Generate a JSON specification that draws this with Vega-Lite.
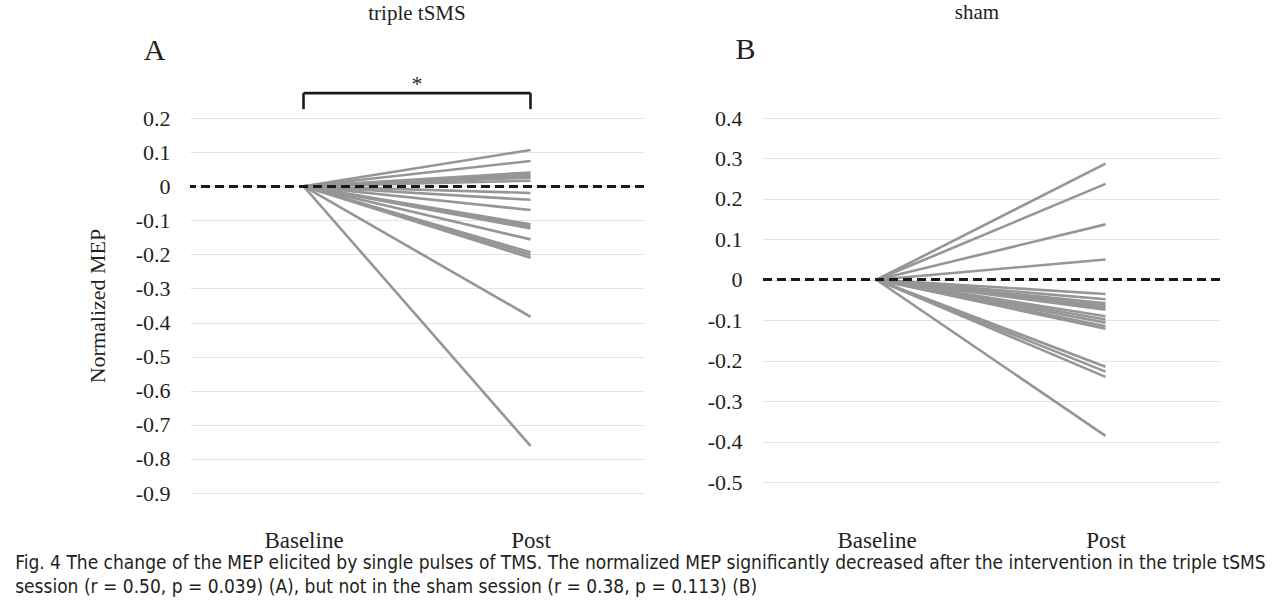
{
  "$schema": "https://vega.github.io/schema/vega-lite/v6.json",
  "background": "white",
  "padding": {"left": 15, "top": 2, "right": 5, "bottom": 2},
  "bounds": "flush",
  "spacing": 118,
  "config": {
    "view": {"stroke": null},
    "font": "Liberation Serif",
    "axis": {"domain": false, "ticks": false, "labelColor": "#231f20", "titleColor": "#231f20", "labelFont": "Liberation Serif", "titleFont": "Liberation Serif", "titleFontWeight": "normal"}
  },
  "title": {
    "text": ["Fig. 4  The change of the MEP elicited by single pulses of TMS. The normalized MEP significantly decreased after the intervention in the triple tSMS", "session (r = 0.50, p = 0.039) (A), but not in the sham session (r = 0.38, p = 0.113) (B)"],
    "orient": "bottom", "anchor": "start", "frame": "bounds", "dx": -71, "offset": 2,
    "font": "Liberation Sans Narrow, DejaVu Sans Condensed, sans-serif", "fontSize": 19, "fontWeight": "normal", "color": "#231f20", "lineHeight": 24
  },
  "hconcat": [
    {
      "width": 454, "height": 375,
      "title": {"text": "triple tSMS", "font": "Liberation Serif", "fontSize": 21, "fontWeight": "normal", "color": "#231f20", "offset": 12},
      "data": {"values": [
        {"subject": "s1", "time": "Baseline", "value": 0}, {"subject": "s1", "time": "Post", "value": 0.106},
        {"subject": "s2", "time": "Baseline", "value": 0}, {"subject": "s2", "time": "Post", "value": 0.074},
        {"subject": "s3", "time": "Baseline", "value": 0}, {"subject": "s3", "time": "Post", "value": 0.04},
        {"subject": "s4", "time": "Baseline", "value": 0}, {"subject": "s4", "time": "Post", "value": 0.035},
        {"subject": "s5", "time": "Baseline", "value": 0}, {"subject": "s5", "time": "Post", "value": 0.03},
        {"subject": "s6", "time": "Baseline", "value": 0}, {"subject": "s6", "time": "Post", "value": 0.025},
        {"subject": "s7", "time": "Baseline", "value": 0}, {"subject": "s7", "time": "Post", "value": 0.016},
        {"subject": "s8", "time": "Baseline", "value": 0}, {"subject": "s8", "time": "Post", "value": -0.02},
        {"subject": "s9", "time": "Baseline", "value": 0}, {"subject": "s9", "time": "Post", "value": -0.04},
        {"subject": "s10", "time": "Baseline", "value": 0}, {"subject": "s10", "time": "Post", "value": -0.07},
        {"subject": "s11", "time": "Baseline", "value": 0}, {"subject": "s11", "time": "Post", "value": -0.112},
        {"subject": "s12", "time": "Baseline", "value": 0}, {"subject": "s12", "time": "Post", "value": -0.118},
        {"subject": "s13", "time": "Baseline", "value": 0}, {"subject": "s13", "time": "Post", "value": -0.124},
        {"subject": "s14", "time": "Baseline", "value": 0}, {"subject": "s14", "time": "Post", "value": -0.156},
        {"subject": "s15", "time": "Baseline", "value": 0}, {"subject": "s15", "time": "Post", "value": -0.194},
        {"subject": "s16", "time": "Baseline", "value": 0}, {"subject": "s16", "time": "Post", "value": -0.202},
        {"subject": "s17", "time": "Baseline", "value": 0}, {"subject": "s17", "time": "Post", "value": -0.21},
        {"subject": "s18", "time": "Baseline", "value": 0}, {"subject": "s18", "time": "Post", "value": -0.383},
        {"subject": "s19", "time": "Baseline", "value": 0}, {"subject": "s19", "time": "Post", "value": -0.762}
      ]},
      "encoding": {
        "x": {"field": "time", "type": "ordinal", "sort": ["Baseline", "Post"], "scale": {"type": "point", "padding": 0.5},
              "axis": {"title": null, "labelAngle": 0, "labelFontSize": 23, "labelPadding": 36, "grid": false}},
        "y": {"field": "value", "type": "quantitative", "scale": {"domain": [-0.9, 0.2], "nice": false, "zero": false},
              "axis": {"values": [0.2, 0.1, 0, -0.1, -0.2, -0.3, -0.4, -0.5, -0.6, -0.7, -0.8, -0.9],
                       "labelExpr": "(datum.value < 0 ? '-' : '') + format(abs(datum.value), '.1~f')",
                       "labelFontSize": 22, "labelPadding": 20, "gridColor": "#e4e4e4", "gridWidth": 1,
                       "title": "Normalized MEP", "titleFontSize": 22, "titlePadding": 26}}
      },
      "layer": [
        {"mark": {"type": "line", "color": "#969696", "strokeWidth": 2.6}, "encoding": {"detail": {"field": "subject"}}},
        {"mark": {"type": "rule", "color": "#1a1a1a", "strokeWidth": 2.5, "strokeDash": [9, 5]}, "encoding": {"x": null, "y": {"datum": 0}}},
        {"data": {"values": [{"start": "Baseline", "end": "Post", "top": 0.273}]},
         "mark": {"type": "rule", "color": "#1a1a1a", "strokeWidth": 2.6},
         "encoding": {"x": {"field": "start", "type": "ordinal"}, "x2": {"field": "end"}, "y": {"field": "top", "type": "quantitative"}}},
        {"data": {"values": [{"at": "Baseline", "top": 0.273, "bottom": 0.226}, {"at": "Post", "top": 0.273, "bottom": 0.226}]},
         "mark": {"type": "rule", "color": "#1a1a1a", "strokeWidth": 2.6},
         "encoding": {"x": {"field": "at", "type": "ordinal"}, "y": {"field": "top", "type": "quantitative"}, "y2": {"field": "bottom"}}},
        {"data": {"values": [{"label": "*", "at": "Baseline", "level": 0.3}]},
         "mark": {"type": "text", "font": "Liberation Serif", "fontSize": 22, "color": "#231f20", "dx": 113.5, "baseline": "middle"},
         "encoding": {"x": {"field": "at", "type": "ordinal"}, "y": {"field": "level", "type": "quantitative"}, "text": {"field": "label"}}},
        {"data": {"values": [{"label": "A", "at": "Baseline", "level": 0.396}]},
         "mark": {"type": "text", "font": "Liberation Serif", "fontSize": 30, "color": "#231f20", "dx": -149, "baseline": "middle"},
         "encoding": {"x": {"field": "at", "type": "ordinal"}, "y": {"field": "level", "type": "quantitative"}, "text": {"field": "label"}}}
      ]
    },
    {
      "width": 458, "height": 364,
      "title": {"text": "sham", "font": "Liberation Serif", "fontSize": 21, "fontWeight": "normal", "color": "#231f20", "offset": 12, "dx": -14},
      "data": {"values": [
        {"subject": "s1", "time": "Baseline", "value": 0}, {"subject": "s1", "time": "Post", "value": 0.287},
        {"subject": "s2", "time": "Baseline", "value": 0}, {"subject": "s2", "time": "Post", "value": 0.237},
        {"subject": "s3", "time": "Baseline", "value": 0}, {"subject": "s3", "time": "Post", "value": 0.137},
        {"subject": "s4", "time": "Baseline", "value": 0}, {"subject": "s4", "time": "Post", "value": 0.05},
        {"subject": "s5", "time": "Baseline", "value": 0}, {"subject": "s5", "time": "Post", "value": -0.035},
        {"subject": "s6", "time": "Baseline", "value": 0}, {"subject": "s6", "time": "Post", "value": -0.048},
        {"subject": "s7", "time": "Baseline", "value": 0}, {"subject": "s7", "time": "Post", "value": -0.058},
        {"subject": "s8", "time": "Baseline", "value": 0}, {"subject": "s8", "time": "Post", "value": -0.064},
        {"subject": "s9", "time": "Baseline", "value": 0}, {"subject": "s9", "time": "Post", "value": -0.069},
        {"subject": "s10", "time": "Baseline", "value": 0}, {"subject": "s10", "time": "Post", "value": -0.074},
        {"subject": "s11", "time": "Baseline", "value": 0}, {"subject": "s11", "time": "Post", "value": -0.09},
        {"subject": "s12", "time": "Baseline", "value": 0}, {"subject": "s12", "time": "Post", "value": -0.098},
        {"subject": "s13", "time": "Baseline", "value": 0}, {"subject": "s13", "time": "Post", "value": -0.106},
        {"subject": "s14", "time": "Baseline", "value": 0}, {"subject": "s14", "time": "Post", "value": -0.115},
        {"subject": "s15", "time": "Baseline", "value": 0}, {"subject": "s15", "time": "Post", "value": -0.121},
        {"subject": "s16", "time": "Baseline", "value": 0}, {"subject": "s16", "time": "Post", "value": -0.215},
        {"subject": "s17", "time": "Baseline", "value": 0}, {"subject": "s17", "time": "Post", "value": -0.227},
        {"subject": "s18", "time": "Baseline", "value": 0}, {"subject": "s18", "time": "Post", "value": -0.24},
        {"subject": "s19", "time": "Baseline", "value": 0}, {"subject": "s19", "time": "Post", "value": -0.386}
      ]},
      "encoding": {
        "x": {"field": "time", "type": "ordinal", "sort": ["Baseline", "Post"], "scale": {"type": "point", "padding": 0.5},
              "axis": {"title": null, "labelAngle": 0, "labelFontSize": 23, "labelPadding": 47, "grid": false}},
        "y": {"field": "value", "type": "quantitative", "scale": {"domain": [-0.5, 0.4], "nice": false, "zero": false},
              "axis": {"values": [0.4, 0.3, 0.2, 0.1, 0, -0.1, -0.2, -0.3, -0.4, -0.5],
                       "labelExpr": "(datum.value < 0 ? '-' : '') + format(abs(datum.value), '.1~f')",
                       "labelFontSize": 22, "labelPadding": 20, "gridColor": "#e4e4e4", "gridWidth": 1, "title": null}}
      },
      "layer": [
        {"mark": {"type": "line", "color": "#969696", "strokeWidth": 2.6}, "encoding": {"detail": {"field": "subject"}}},
        {"mark": {"type": "rule", "color": "#1a1a1a", "strokeWidth": 2.5, "strokeDash": [9, 5]}, "encoding": {"x": null, "y": {"datum": 0}}},
        {"data": {"values": [{"label": "B", "at": "Baseline", "level": 0.568}]},
         "mark": {"type": "text", "font": "Liberation Serif", "fontSize": 30, "color": "#231f20", "dx": -131, "baseline": "middle"},
         "encoding": {"x": {"field": "at", "type": "ordinal"}, "y": {"field": "level", "type": "quantitative"}, "text": {"field": "label"}}}
      ]
    }
  ]
}
